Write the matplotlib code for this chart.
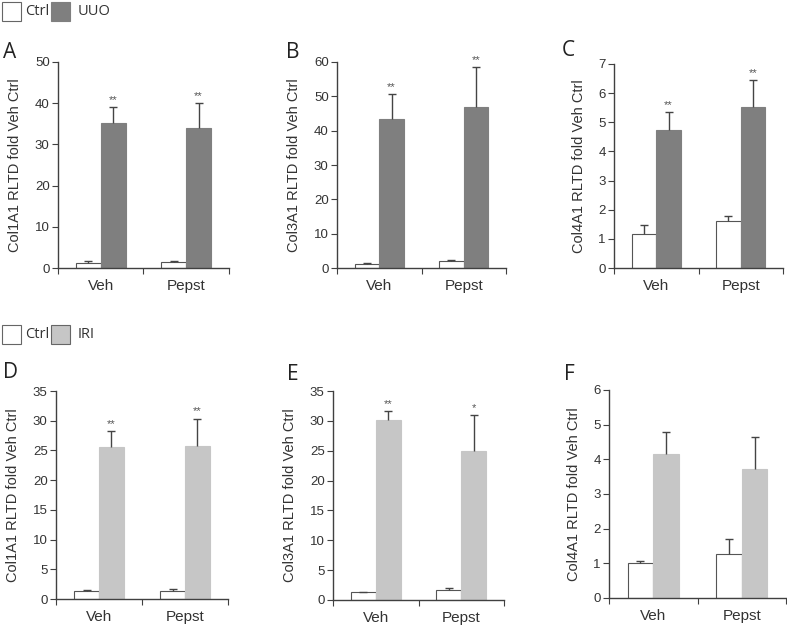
import matplotlib.pyplot as plt
from matplotlib.patches import Rectangle

groups = ['Veh', 'Pepst']

# panel A - Col1A1, UUO
ctrl_A = [1.3, 1.5]
ctrl_A_err = [0.35, 0.15]
uuo_A = [35.1, 33.9]
uuo_A_err = [3.9, 6.2]
stars_A = ['**', '**']

# panel B - Col3A1, UUO
ctrl_B = [1.2, 2.0]
ctrl_B_err = [0.25, 0.3]
uuo_B = [43.4, 47.0]
uuo_B_err = [7.2, 11.5]
stars_B = ['**', '**']

# panel C - Col4A1, UUO
ctrl_C = [1.16, 1.61]
ctrl_C_err = [0.32, 0.18]
uuo_C = [4.72, 5.54]
uuo_C_err = [0.63, 0.9]
stars_C = ['**', '**']

# panel D - Col1A1, IRI
ctrl_D = [1.3, 1.3]
ctrl_D_err = [0.15, 0.4]
iri_D = [25.5, 25.8]
iri_D_err = [2.8, 4.55]
stars_D = ['**', '**']

# panel E - Col3A1, IRI
ctrl_E = [1.28, 1.73]
ctrl_E_err = [0.05, 0.22]
iri_E = [30.2, 25.0]
iri_E_err = [1.4, 5.9]
stars_E = ['**', '*']

# panel F - Col4A1, IRI
ctrl_F = [1.0, 1.27]
ctrl_F_err = [0.08, 0.43]
iri_F = [4.14, 3.71]
iri_F_err = [0.66, 0.94]
stars_F = ['', '']

W, H = 787, 625
fig = plt.figure(figsize=(W / 100, H / 100), dpi=100)

UUO_COLOR = '#7f7f7f'
IRI_COLOR = '#c6c6c6'
AX_COLOR = '#404040'
TXT_COLOR = '#333333'
LETTER_FONT = ['Open Sans', 'DejaVu Sans']
MAIN_FONT = ['Liberation Sans', 'DejaVu Sans']


def px_axes(left, top, right, bottom):
    # pixel box -> figure fraction
    return fig.add_axes([left / W, 1 - bottom / H, (right - left) / W, (bottom - top) / H])


def draw_panel(ax, ctrl, ctrl_err, treat, treat_err, stars, color, ymax, ystep, ylabel):
    bw = 0.29
    xs = range(len(groups))
    xc = [x - bw / 2 for x in xs]
    xt = [x + bw / 2 for x in xs]
    ekw = dict(ecolor='#444444', elinewidth=1, capsize=3, capthick=1)
    b1 = ax.bar(xc, ctrl, bw, color='white', edgecolor='#555555', linewidth=0.8,
                yerr=[[0] * len(ctrl), ctrl_err], error_kw=ekw, zorder=2)
    b2 = ax.bar(xt, treat, bw, color=color, edgecolor=color, linewidth=0.8,
                yerr=[[0] * len(treat), treat_err], error_kw=ekw, zorder=2)
    # only the upper cap is drawn in the original
    for b in (b1, b2):
        caps = b.errorbar.lines[1]
        if caps:
            caps[0].set_visible(False)
    for x, m, e, s in zip(xt, treat, treat_err, stars):
        if s:
            ax.annotate(s, (x, m + e), xytext=(0, 1.5), textcoords='offset points',
                        ha='center', va='bottom', fontsize=8, color='#555555',
                        family=MAIN_FONT)
    ax.set_xlim(-0.5, 1.5)
    ax.set_ylim(0, ymax)
    ax.set_yticks([v * ystep for v in range(int(round(ymax / ystep)) + 1)])
    ax.set_xticks([-0.5, 0.5, 1.5])
    ax.set_xticklabels([])
    ax.set_xticks(list(xs), minor=True)
    ax.set_xticklabels(groups, minor=True, fontsize=11, color=TXT_COLOR, family=MAIN_FONT)
    ax.tick_params(axis='x', which='major', direction='out', length=4, color=AX_COLOR)
    ax.tick_params(axis='x', which='minor', length=0, pad=8)
    ax.tick_params(axis='y', direction='out', length=4, color=AX_COLOR,
                   labelsize=9.5, labelcolor=TXT_COLOR, pad=2)
    for lab in ax.get_yticklabels():
        lab.set_family(MAIN_FONT)
    for side in ['top', 'right']:
        ax.spines[side].set_visible(False)
    for side in ['left', 'bottom']:
        ax.spines[side].set_color(AX_COLOR)
        ax.spines[side].set_linewidth(1)
    ax.set_ylabel(ylabel, fontsize=10.5, color=TXT_COLOR, family=MAIN_FONT, labelpad=9)


axA = px_axes(58, 62, 229, 268)
axB = px_axes(337, 62, 506, 268)
axC = px_axes(614, 64, 783, 268)
axD = px_axes(56, 391, 228, 599)
axE = px_axes(333, 391, 504, 600)
axF = px_axes(609, 390, 786, 598)

draw_panel(axA, ctrl_A, ctrl_A_err, uuo_A, uuo_A_err, stars_A, UUO_COLOR, 50, 10,
           'Col1A1 RLTD fold Veh Ctrl')
draw_panel(axB, ctrl_B, ctrl_B_err, uuo_B, uuo_B_err, stars_B, UUO_COLOR, 60, 10,
           'Col3A1 RLTD fold Veh Ctrl')
draw_panel(axC, ctrl_C, ctrl_C_err, uuo_C, uuo_C_err, stars_C, UUO_COLOR, 7, 1,
           'Col4A1 RLTD fold Veh Ctrl')
draw_panel(axD, ctrl_D, ctrl_D_err, iri_D, iri_D_err, stars_D, IRI_COLOR, 35, 5,
           'Col1A1 RLTD fold Veh Ctrl')
draw_panel(axE, ctrl_E, ctrl_E_err, iri_E, iri_E_err, stars_E, IRI_COLOR, 35, 5,
           'Col3A1 RLTD fold Veh Ctrl')
draw_panel(axF, ctrl_F, ctrl_F_err, iri_F, iri_F_err, stars_F, IRI_COLOR, 6, 1,
           'Col4A1 RLTD fold Veh Ctrl')

# panel letters
for letter, x, y in [('A', 3, 52), ('B', 286, 52), ('C', 562, 50),
                     ('D', 3, 372), ('E', 287, 374), ('F', 564, 374)]:
    fig.text(x / W, 1 - y / H, letter, fontsize=15, color='#222222',
             family=LETTER_FONT, ha='left', va='center')


# legends drawn in figure pixels
def legend_row(y_top, label2, color2):
    box = 19
    fig.add_artist(Rectangle((2 / W, 1 - (y_top + box) / H), box / W, box / H,
                             transform=fig.transFigure, facecolor='white',
                             edgecolor='#666666', linewidth=0.8))
    fig.text(25 / W, 1 - (y_top + box / 2) / H, 'Ctrl', fontsize=10.5, color=TXT_COLOR,
             family=LETTER_FONT, va='center', ha='left')
    fig.add_artist(Rectangle((51 / W, 1 - (y_top + box) / H), box / W, box / H,
                             transform=fig.transFigure, facecolor=color2,
                             edgecolor='#666666' if color2 == IRI_COLOR else color2,
                             linewidth=0.8))
    fig.text(78 / W, 1 - (y_top + box / 2) / H, label2, fontsize=10.5, color=TXT_COLOR,
             family=LETTER_FONT, va='center', ha='left')


legend_row(2, 'UUO', UUO_COLOR)
legend_row(325, 'IRI', IRI_COLOR)

fig.savefig('out.png', dpi=100)
